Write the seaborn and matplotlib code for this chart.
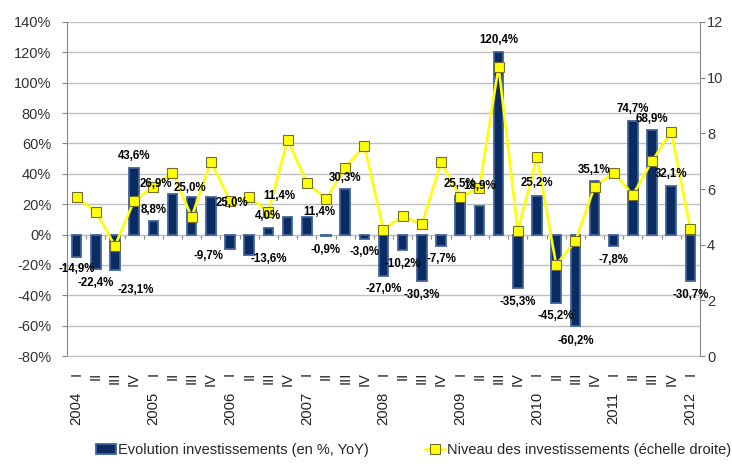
import numpy as np
import matplotlib
matplotlib.use("Agg")
import matplotlib.pyplot as plt
import matplotlib.patches as mpatches
from matplotlib.lines import Line2D
import seaborn as sns

# données trimestrielles 2004 T1 -> 2012 T1
TRIMESTRES = ["I", "II", "III", "IV"] * 8 + ["I"]
ANNEES = ["2004", "2005", "2006", "2007", "2008", "2009", "2010", "2011", "2012"]

EVOLUTION = [-14.9, -22.4, -23.1, 43.6, 8.8, 26.9, 25.0, 25.0, -9.7, -13.6, 4.0,
             11.4, 11.4, -0.9, 30.3, -3.0, -27.0, -10.2, -30.3, -7.7, 25.5, 18.9,
             120.4, -35.3, 25.2, -45.2, -60.2, 35.1, -7.8, 74.7, 68.9, 32.1, -30.7]

NIVEAU = [5.70, 5.19, 3.96, 5.58, 6.08, 6.59, 5.00, 6.98, 5.58, 5.70, 5.19,
          7.76, 6.23, 5.64, 6.77, 7.55, 4.53, 5.04, 4.73, 6.96, 5.72, 6.05,
          10.40, 4.50, 7.16, 3.28, 4.12, 6.08, 6.59, 5.79, 7.00, 8.06, 4.55]

# décalage des étiquettes (x en catégories, y en pixels depuis le bout de la barre)
LABEL_DX = [0, 0, 1.1, 0, 0, -0.86, -0.1, 1.1, -1.1, 1.0, 0,
            -0.46, 0.63, 0, 0, 0, 0, 0, 0, 0, 0, 0,
            0, 0, 0, 0, 0, 0, 0, 0, 0, 0, 0]
LABEL_DY = [12, 14, 20, 12, 11, 10, 9, -6, 7, 4, 12,
            21, 5, 14, 11, 13, 13, 14, 14, 13, 12, 20,
            12, 14, 13, 13, 15, 11, 14, 12, 11, 12, 14]

BLEU = "#0b2b63"
BORD = "#42639a"
JAUNE = "#ffff00"
GRIS = "#868686"

sns.set_style("white")
plt.rcParams["font.family"] = ["Liberation Sans", "DejaVu Sans"]

fig = plt.figure(figsize=(7.32, 4.68), dpi=100)
ax = fig.add_axes([0.0915, 0.2393, 0.8648, 0.7137])

idx = list(range(len(EVOLUTION)))
sns.barplot(x=idx, y=EVOLUTION, color=BLEU, saturation=1, width=0.5,
            edgecolor=BORD, linewidth=1.3, ax=ax, zorder=2)

ax.set_xlim(-0.5, len(idx) - 0.5)
ax.set_ylim(-80, 140)
ax.set_yticks(range(-80, 141, 20))
ax.set_yticklabels([f"{v}%" for v in range(-80, 141, 20)])
ax.yaxis.grid(True, color="#c0c0c0", linewidth=1)
ax.set_axisbelow(True)
ax.set_xlabel("")
ax.set_ylabel("")
ax.set_xticks(idx)
ax.set_xticklabels(TRIMESTRES, rotation=90, fontsize=10.5)
ax.tick_params(axis="x", length=0, pad=11.5, colors="#222222")
ax.tick_params(axis="y", direction="out", length=3.5, color=GRIS, pad=8,
               labelsize=10.5, labelcolor="#333333", left=True)
for s in ["top", "right"]:
    ax.spines[s].set_visible(False)
ax.spines["left"].set_color(GRIS)
ax.spines["bottom"].set_color("#c0c0c0")

# axe des catégories au niveau 0 %
axe0 = ax.secondary_xaxis((0 - (-80)) / 220)
axe0.set_xticks(np.arange(-0.5, len(idx), 1))
axe0.tick_params(length=3, color=GRIS, labelbottom=False, direction="out")
axe0.spines["bottom"].set_color(GRIS)

# années sous les trimestres I
k = 0
for i, q in enumerate(TRIMESTRES):
    if q == "I":
        ax.annotate(ANNEES[k], xy=(i, 0), xycoords=ax.get_xaxis_transform(),
                    xytext=(0, -36), textcoords="offset pixels", rotation=90,
                    ha="center", va="top", fontsize=10.7, color="#222222")
        k += 1

# niveau (échelle droite)
ax2 = ax.twinx()
sns.lineplot(x=idx, y=NIVEAU, ax=ax2, color=JAUNE, linewidth=1.9, marker="s",
             markersize=6.5, markerfacecolor=JAUNE, markeredgecolor="#6f6f2a",
             markeredgewidth=0.8, zorder=3)
ax2.set_ylim(0, 12)
ax2.set_yticks(range(0, 13, 2))
ax2.tick_params(axis="y", direction="out", length=3.5, color=GRIS, pad=1.5,
                labelsize=10.5, labelcolor="#333333", right=True)
ax2.set_ylabel("")
for s in ["top", "left", "bottom"]:
    ax2.spines[s].set_visible(False)
ax2.spines["right"].set_color(GRIS)

# étiquettes des barres
for i, v in enumerate(EVOLUTION):
    signe = 1 if v >= 0 else -1
    ax2.annotate(f"{v:.1f}%".replace(".", ","), xy=(i + LABEL_DX[i], v),
                 xycoords=ax.transData, xytext=(0, signe * LABEL_DY[i]),
                 textcoords="offset pixels", ha="center", va="center",
                 fontsize=8.3, fontweight="bold", color="black", zorder=5)

handles = [mpatches.Patch(facecolor=BLEU, edgecolor=BORD, linewidth=1.3),
           Line2D([], [], color=JAUNE, linewidth=1.9, marker="s", markersize=6.5,
                  markerfacecolor=JAUNE, markeredgecolor="#6f6f2a", markeredgewidth=0.8)]
fig.legend(handles, ["Evolution investissements (en %, YoY)",
                     "Niveau des investissements (échelle droite)"],
           loc="lower center", bbox_to_anchor=(0.565, -0.005), ncol=2, frameon=False,
           fontsize=10.5, handlelength=1.35, handletextpad=0.15, columnspacing=3.9)

fig.savefig("out.png", dpi=100)
